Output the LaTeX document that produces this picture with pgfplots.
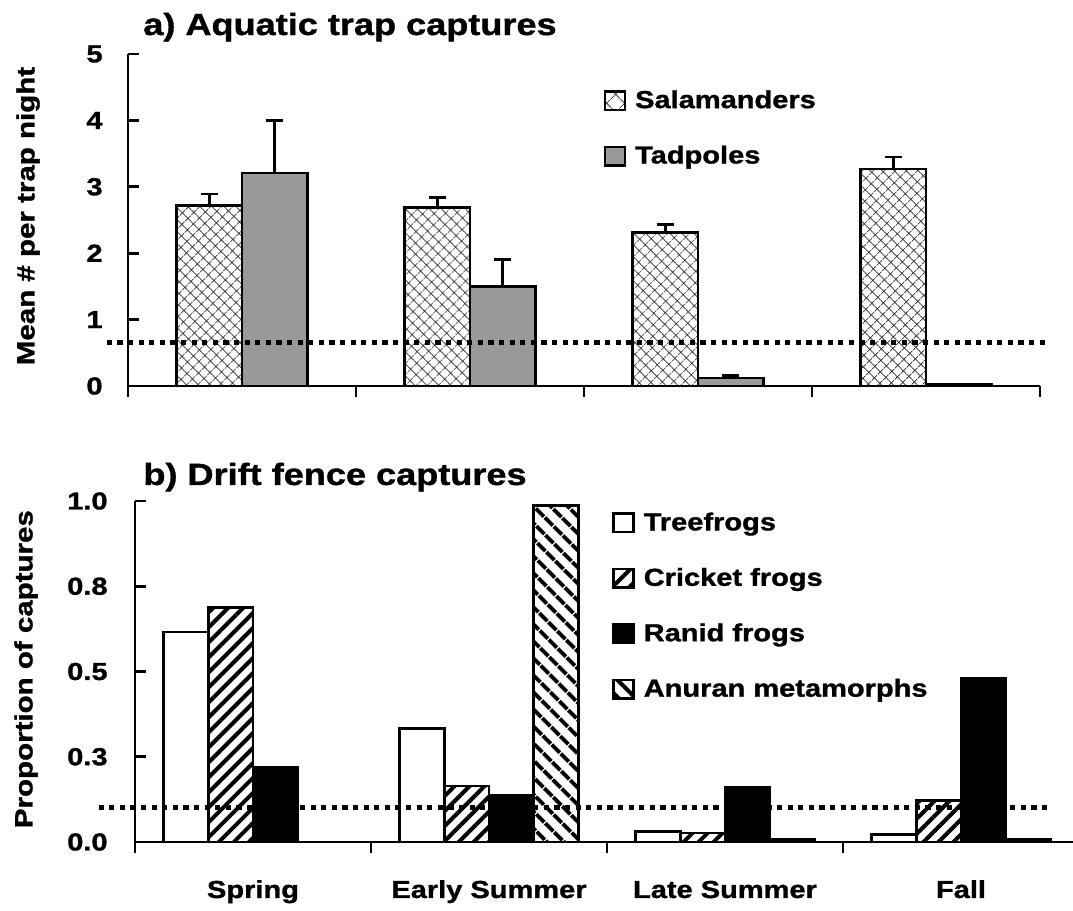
\documentclass[border=0pt]{standalone}
\usepackage{fontspec}
\setmainfont{Liberation Sans}[FakeStretch=1.18, BoldFeatures={FakeBold=1.2}]
\usepackage{pgfplots}
\pgfplotsset{compat=1.18}
\usetikzlibrary{patterns.meta}
\definecolor{tadgray}{RGB}{153,153,153}
\newcommand{\tfont}{\bfseries\fontsize{12.3}{14}\selectfont}
\begin{document}
\begin{tikzpicture}[font=\tfont]
\useasboundingbox (0,0) rectangle (536.5pt,455.5pt);
\pgfplotsset{
  myaxis/.style={
    scale only axis, anchor=south west,
    axis x line*=bottom, axis y line*=left,
    axis line style={line width=1.4pt},
    every tick/.style={black, line width=1.4pt},
    major tick length=5.5pt,
    xtick align=outside, ytick align=inside,
    xmin=-0.5, xmax=3.5,
    xtick={-0.5,0.5,1.5,2.5,3.5},
    x tick label as interval,
    clip=false,
    tick label style={font=\tfont},
    /pgf/number format/assume math mode=true,
    legend image code/.code={\draw[#1,line width=1.3pt] (0pt,-4.6pt) rectangle (10pt,4.6pt);},
    legend cell align=left,
    legend style={draw=none, fill=none, inner sep=0pt, row sep=13.3pt, column sep=2.5pt, font=\tfont, anchor=north west},
    ylabel style={anchor=center, inner sep=0pt, font=\bfseries\fontsize{12.5}{15}\selectfont},
    every axis title shift=0pt,
    title style={anchor=base west, inner sep=0pt, yshift=0pt, font=\bfseries\fontsize{15.3}{18}\selectfont},
  },
  salstyle/.style={draw=black, line width=1.35pt, pattern={Hatch[angle=45,distance=4pt,line width=0.45pt]}, pattern color=black!80},
  errstyle/.style={error bars/.cd, y dir=plus, y explicit, error bar style={line width=1.35pt, solid}, error mark options={rotate=90, mark size=4.3pt, line width=1.35pt, black}},
}

% ---------- a) Aquatic trap captures ----------
\begin{axis}[myaxis, at={(64pt,262.5pt)}, width=456pt, height=166pt,
  ymin=0, ymax=5, ytick={0,1,2,3,4,5}, yticklabels={0,1,2,3,4,5},
  xticklabels={},
  yticklabel style={inner sep=0pt, xshift=-12.5pt},
  ylabel={Mean \# per trap night},
  ylabel style={at={(axis description cs:-0.1096,0.512)}},
  title={a) Aquatic trap captures},
  title style={at={(axis description cs:0.0164,1.0572)}},
  legend style={at={(axis description cs:0.521,0.904)}},
]
% Salamanders (bars at category - 0.144)
\addplot[ybar, bar width=0.288, bar shift=0, salstyle, forget plot, errstyle]
  coordinates {(-0.144,2.72) +- (0,0.17) (0.856,2.69) +- (0,0.15) (1.856,2.31) +- (0,0.12) (2.856,3.27) +- (0,0.18)};
% Tadpoles (bars at category + 0.144)
\addplot[ybar, bar width=0.288, bar shift=0, draw=black, line width=1.35pt, fill=tadgray, forget plot, errstyle]
  coordinates {(0.144,3.21) +- (0,0.79) (1.144,1.50) +- (0,0.41) (2.144,0.12) +- (0,0.04) (3.144,0.02) +- (0,0.01)};
\addplot[black, line width=2.5pt, dash pattern=on 2.6pt off 2.7pt, forget plot]
  coordinates {(-0.593,0.65) (3.54,0.65)};
\addlegendimage{draw=black, pattern={Hatch[angle=45,distance=6.5pt,line width=0.4pt]}, pattern color=black!80}
\addlegendentry{Salamanders}
\addlegendimage{draw=black, fill=tadgray}
\addlegendentry{Tadpoles}
\end{axis}

% ---------- b) Drift fence captures ----------
\begin{axis}[myaxis, at={(67.5pt,34.5pt)}, width=472pt, height=170.5pt,
  ymin=0, ymax=1, ytick={0,0.25,0.5,0.75,1}, yticklabels={0.0,0.3,0.5,0.8,1.0},
  xticklabels={Spring,Early Summer,Late Summer,Fall},
  xticklabel style={anchor=base, inner sep=0pt, yshift=-22.5pt},
  yticklabel style={inner sep=0pt, xshift=-13.5pt},
  ylabel={Proportion of captures},
  ylabel style={at={(axis description cs:-0.1155,0.507)}},
  title={b) Drift fence captures},
  title style={at={(axis description cs:0.0085,1.047)}},
  legend style={at={(axis description cs:0.505,0.979)}},
]
\addplot[ybar, bar width=0.19, bar shift=-0.285, draw=black, line width=1.35pt, fill=white, forget plot]
  coordinates {(0,0.616) (1,0.332) (2,0.030) (3,0.023)};
\addplot[ybar, bar width=0.19, bar shift=-0.095, draw=black, line width=1.35pt, pattern={Lines[angle=45,distance=5.3pt,line width=2pt]}, forget plot]
  coordinates {(0,0.687) (1,0.164) (2,0.026) (3,0.121)};
\addplot[ybar, bar width=0.19, bar shift=0.095, draw=black, line width=1.35pt, fill=black, forget plot]
  coordinates {(0,0.220) (1,0.137) (2,0.161) (3,0.480)};
\addplot[ybar, bar width=0.19, bar shift=0.285, draw=black, line width=1.35pt, pattern={Lines[angle=-45,distance=6.4pt,line width=2.2pt]}, forget plot]
  coordinates {(0,0) (1,0.987) (2,0.007) (3,0.007)};
\addplot[black, line width=2.5pt, dash pattern=on 2.6pt off 2.7pt, forget plot]
  coordinates {(-0.654,0.10) (3.376,0.10)};
\addlegendimage{draw=black, fill=white}
\addlegendentry{Treefrogs}
\addlegendimage{draw=black, pattern={Lines[angle=45,distance=6pt,line width=2pt]}}
\addlegendentry{Cricket frogs}
\addlegendimage{draw=black, fill=black}
\addlegendentry{Ranid frogs}
\addlegendimage{draw=black, pattern={Lines[angle=-45,distance=6pt,line width=2pt]}}
\addlegendentry{Anuran metamorphs}
\end{axis}
\end{tikzpicture}
\end{document}
